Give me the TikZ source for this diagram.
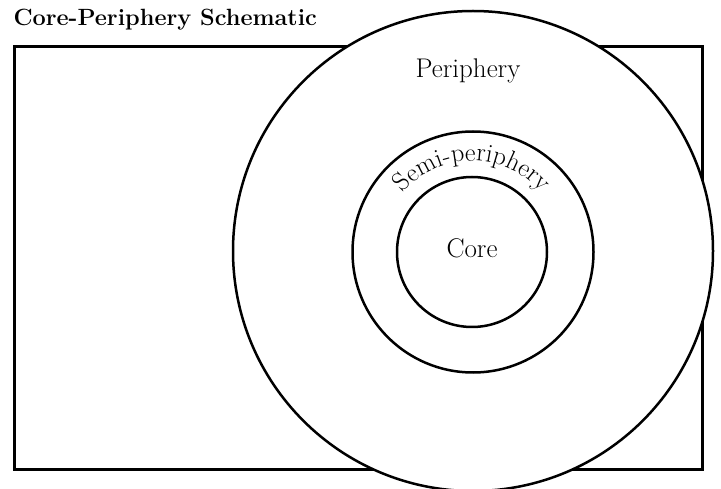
\documentclass[tikz,border=0pt]{standalone}
\usepackage{tikz}
\usetikzlibrary{decorations.text}

\tikzset{
  ring/.style={draw,circle,line width=2.5pt,fill=white,inner sep=0pt},
  lbl/.style={font=\fontsize{27}{32}\selectfont}
}

\begin{document}
\begin{tikzpicture}[x=1pt,y=-1pt]
  \useasboundingbox (0,0) rectangle (721,489);
  \node[anchor=west,font=\bfseries\fontsize{23.5}{28}\selectfont] (title) at (10,20) {Core-Periphery Schematic};
  \draw[line width=3pt] (14,47) rectangle (702,469);
  % rings, outermost first
  \node[ring,minimum size=480pt] (periphery) at (473,251) {};
  \node[ring,minimum size=241pt] (semi) at (473,252) {};
  \node[ring,minimum size=150pt] (core) at (472,252) {};
  \node[lbl] (plabel) at (468,71) {Periphery};
  \node[lbl] (clabel) at (472,248) {Core};
  \path[decorate,decoration={text along path,text align=center,
    text={|\fontsize{26}{31}\selectfont|Semi-periphery}}]
    ([shift={(200:91)}]core.center) arc (200:340:91);
\end{tikzpicture}
\end{document}
